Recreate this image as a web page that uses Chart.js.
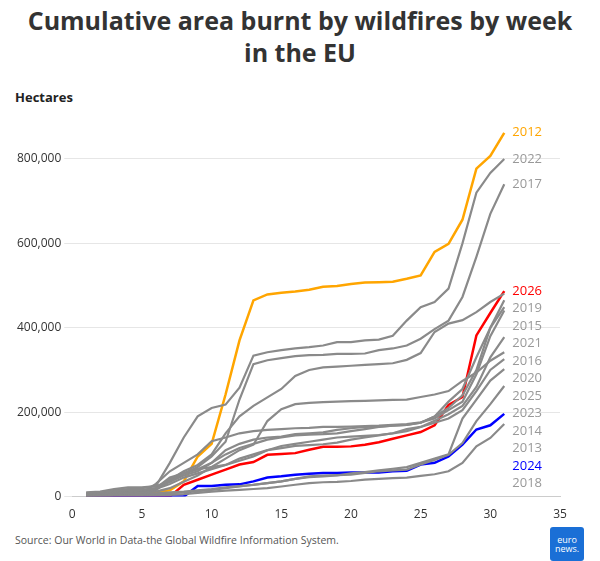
<!DOCTYPE html>
<html><head><meta charset="utf-8">
<script src="https://cdn.jsdelivr.net/npm/chart.js@4"></script>
<style>
body{margin:0;width:600px;height:561px;background:#fff;font-family:"Open Sans",sans-serif;position:relative;overflow:hidden}
h1{margin:0;position:absolute;top:4px;left:0;width:600px;text-align:center;font-size:25px;line-height:32px;font-weight:700;color:#333}
#unit{position:absolute;left:15px;top:88px;font-size:13px;font-weight:700;color:#222}
#box{position:absolute;left:0;top:115px;width:600px;height:410px}
#src{position:absolute;left:15px;top:533px;font-size:10.5px;color:#555}
#logo{position:absolute;left:550px;top:527px;width:34px;height:34px;background:#1a6fd6;border-radius:3px;color:#fff;font-size:9px;line-height:9px;text-align:center;padding-top:8px;box-sizing:border-box}
</style></head><body>
<h1>Cumulative area burnt by wildfires by week<br>in the EU</h1>
<div id="unit">Hectares</div>
<div id="box"><canvas id="c"></canvas></div>
<div id="src">Source: Our World in Data-the Global Wildfire Information System.</div>
<div id="logo">euro<br>news.</div>
<script>
const weeks = Array.from({length: 31}, (_, i) => i + 1);
const yTicks = [0, 200000, 400000, 600000, 800000];
// thousands of hectares
const y2012 = [2,3,4,5,8,10,15,36,95,125,242,370,465,479,483,486,490,497,499,504,507,508,509,516,524,580,599,656,777,807,862];
const y2022 = [10,12,18,22,22,25,80,140,190,210,218,258,334,342,347,351,354,358,366,366,370,372,381,417,449,461,493,600,720,767,800];
const y2017 = [8,10,14,16,16,18,35,55,70,95,130,230,314,323,328,333,335,336,338,338,339,347,351,358,374,397,417,473,568,670,740];
const y2019 = [6,8,12,14,15,20,40,60,75,100,150,190,215,235,255,286,300,306,308,310,312,314,316,324,340,390,410,418,437,461,481];
const y2015 = [5,7,10,12,14,20,45,55,65,80,100,115,125,135,140,145,147,148,150,155,160,165,168,170,175,190,210,240,300,400,465];
const y2021 = [8,10,15,18,20,25,35,50,60,80,110,125,135,140,142,148,150,152,158,162,165,166,168,170,175,190,225,255,330,400,449];
const y2016 = [3,4,6,8,10,30,60,80,100,131,140,150,155,158,160,162,163,165,165,166,167,168,170,172,176,185,205,225,290,380,441];
const y2020 = [6,8,10,12,12,15,40,55,65,70,75,90,100,110,115,120,122,124,128,135,140,145,150,160,165,180,195,215,260,330,378];
const y2025 = [4,5,7,9,10,12,20,35,50,70,90,110,123,179,207,219,222,224,225,226,227,228,229,230,236,242,250,274,294,322,342];
const y2023 = [4,5,6,8,10,18,30,45,55,65,75,85,95,110,120,125,130,135,140,142,144,146,150,155,165,175,185,205,250,300,326];
const y2014 = [2,3,4,5,6,8,10,12,15,18,22,25,28,32,36,42,46,48,50,55,58,62,66,70,80,90,100,185,230,275,302];
const y2013 = [3,4,4,5,5,6,8,10,13,16,20,24,28,32,36,42,48,50,51,52,56,60,62,64,76,87,99,127,179,219,262];
const y2018 = [1,1,2,2,2,3,4,6,9,12,14,16,18,20,24,28,32,34,35,37,40,42,44,45,49,53,60,80,119,139,172];
const y2024 = [0,0,0,0,0,0,0,0,25,25,28,29,36,45,48,52,54,56,56,57,57,57,60,61,76,80,95,123,159,169,196];
const y2026 = [0,0,0,0,0,0,0,28,40,52,64,76,82,99,101,103,111,118,118,119,123,129,137,145,153,169,217,236,382,435,487];

const grey = '#8a8a8a';
const series = [
  ['2022', y2022, grey], ['2017', y2017, grey], ['2019', y2019, grey], ['2015', y2015, grey],
  ['2021', y2021, grey], ['2016', y2016, grey], ['2020', y2020, grey], ['2025', y2025, grey],
  ['2023', y2023, grey], ['2014', y2014, grey], ['2013', y2013, grey], ['2018', y2018, grey],
  ['2024', y2024, '#0000ff'], ['2012', y2012, '#ffa500'], ['2026', y2026, '#ff0000']
];

const endLabels = {
  id: 'endLabels',
  afterDatasetsDraw(chart) {
    const ctx = chart.ctx;
    const items = chart.data.datasets.map((ds, i) => {
      const pts = chart.getDatasetMeta(i).data;
      const p = pts[pts.length - 1];
      return {text: ds.label, color: ds.borderColor, x: p.x, y: p.y};
    }).sort((a, b) => a.y - b.y);
    let last = -1e9;
    items.forEach(it => { it.ly = Math.max(it.y, last + 17.5); last = it.ly; });
    ctx.save();
    ctx.font = '13px "Open Sans"';
    ctx.textBaseline = 'middle';
    items.forEach(it => {
      ctx.fillStyle = it.color === grey ? '#999' : it.color;
      ctx.fillText(it.text, it.x + 8, it.ly);
    });
    ctx.restore();
  }
};

new Chart(document.getElementById('c'), {
  type: 'line',
  data: {
    labels: weeks,
    datasets: series.map(([name, vals, col]) => ({
      label: name,
      data: vals.map((v, i) => ({x: weeks[i], y: v * 1000})),
      borderColor: col,
      borderWidth: col === grey ? 2.2 : 2.5,
      pointRadius: 0,
      tension: 0
    }))
  },
  options: {
    responsive: true,
    maintainAspectRatio: false,
    animation: false,
    layout: {padding: {left: 14, right: 40, top: 8}},
    plugins: {legend: {display: false}, tooltip: {enabled: false}},
    scales: {
      x: {
        type: 'linear', min: 0, max: 35,
        ticks: {stepSize: 5, color: '#333', font: {size: 12, family: 'Open Sans'}},
        grid: {display: false},
        border: {color: '#ccc'}
      },
      y: {
        min: 0, max: 880000,
        afterBuildTicks: axis => { axis.ticks = yTicks.map(v => ({value: v})); },
        ticks: {
          color: '#333', font: {size: 12, family: 'Open Sans'},
          callback: v => v.toLocaleString('en-US')
        },
        grid: {color: '#e6e6e6'},
        border: {display: false}
      }
    }
  },
  plugins: [endLabels]
});
</script>
</body></html>
